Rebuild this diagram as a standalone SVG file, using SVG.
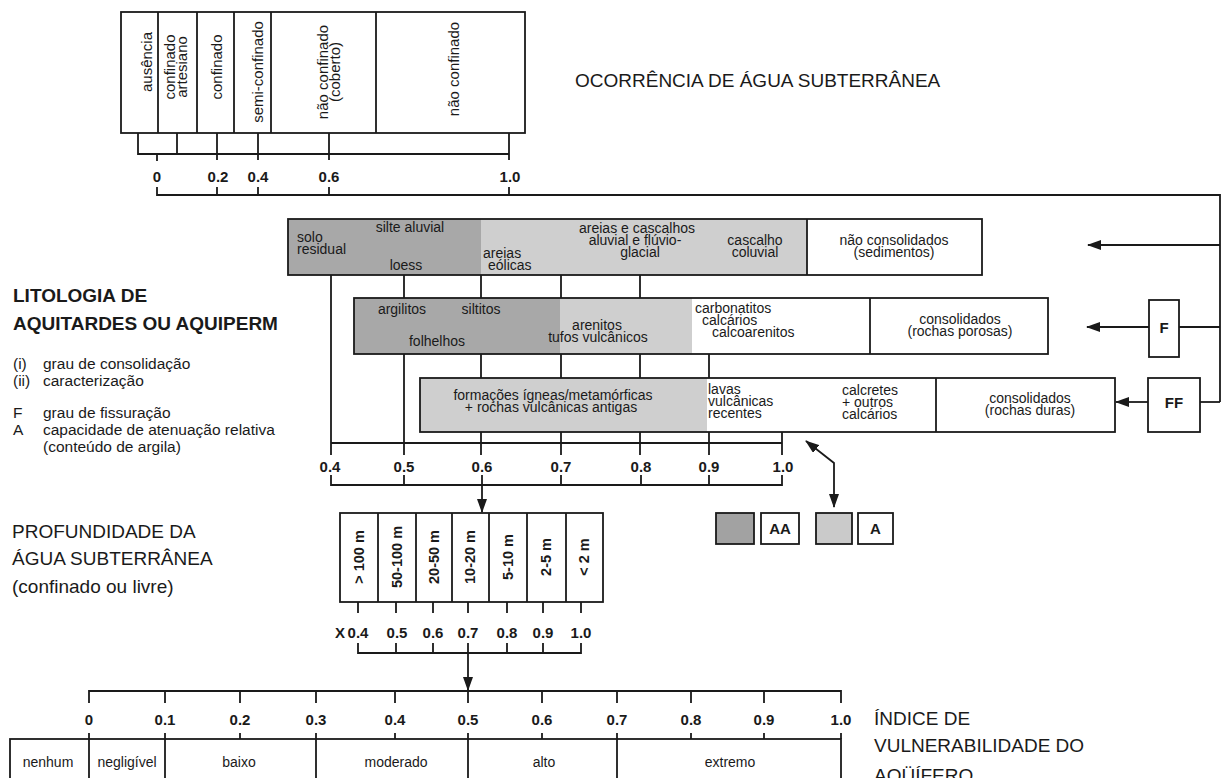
<svg xmlns="http://www.w3.org/2000/svg" width="1223" height="778" viewBox="0 0 1223 778">
<style>
.ln{stroke:#1a1a1a;stroke-width:1.8;fill:none}
.ol{fill:none;stroke:#1a1a1a;stroke-width:1.8}
.bx{fill:#fff;stroke:#1a1a1a;stroke-width:1.8}
.dk{fill:#a8a8a8}
.lt{fill:#cfcfcf}
text{font-family:"Liberation Sans",Arial,Helvetica,sans-serif;fill:#1a1a1a;font-size:14px}
.c{text-anchor:middle}
.v{font-size:15px;text-anchor:middle}
.n{font-size:15px;font-weight:bold;text-anchor:middle}
.d{font-size:14.5px;font-weight:bold;text-anchor:middle}
.h{font-size:19px}
.hb{font-size:19px;font-weight:bold}
.l{font-size:15.5px}
.b{font-weight:bold;font-size:15px;text-anchor:middle}
</style>
<defs>
<marker id="ah" markerUnits="userSpaceOnUse" markerWidth="14" markerHeight="10" refX="13" refY="5" orient="auto-start-reverse"><path d="M0,0 L14,5 L0,10 z" fill="#1a1a1a"/></marker>
</defs>
<rect x="0" y="0" width="1223" height="778" fill="#fff"/>

<g id="connectors">
<path class="ln" d="M138 133 V154 H509"/>
<path class="ln" d="M177 133 V154 M217 133 V160 M258 133 V160 M329 133 V160 M509 133 V160 M157 154 V161"/>
<path class="ln" d="M157 187 V195 H1220 V402 M217 187 V195 M258 187 V195 M329 187 V195 M509 187 V195"/>
<path class="ln" d="M1220 245 H1088" marker-end="url(#ah)"/>
<path class="ln" d="M1220 327 H1179"/>
<path class="ln" d="M1149 327 H1087" marker-end="url(#ah)"/>
<path class="ln" d="M1220 402 H1200"/>
<path class="ln" d="M1148 402 H1116" marker-end="url(#ah)"/>
<path class="ln" d="M331 275 V455 M404 275 V455 M481 275 V455 M561 275 V455 M640 275 V455 M709 354 V455 M782 432 V455"/>
<path class="ln" d="M331 443 H782"/>
<path class="ln" d="M331 475 V485 H782 V475 M404 475 V485 M561 475 V485 M641 475 V485 M709 475 V485"/>
<path class="ln" d="M482 475 V512" marker-end="url(#ah)"/>
<path class="ln" d="M806 441 L834 463 V507" marker-start="url(#ah)" marker-end="url(#ah)"/>
<path class="ln" d="M358 602 V613 M396 602 V613 M433 602 V613 M468 602 V613 M507 602 V613 M543 602 V613 M581 602 V613"/>
<path class="ln" d="M358 643 V653 H581 V643 M396 643 V653 M433 643 V653 M507 643 V653 M543 643 V653"/>
<path class="ln" d="M468 643 V690" marker-end="url(#ah)"/>
<path class="ln" d="M89 703 V691 H841 V703 M165 691 V703 M240 691 V703 M316 691 V703 M395 691 V703 M468 691 V703 M542 691 V703 M617 691 V703 M691 691 V703 M764 691 V703"/>
</g>

<g id="ocorrencia">
<rect class="bx" x="121" y="12" width="404" height="121"/>
<path class="ln" d="M158 12 V133 M197 12 V133 M234 12 V133 M271 12 V133 M376 12 V133"/>
<text class="v" transform="translate(152,62) rotate(-90)">ausência</text>
<text class="v" transform="translate(175,67) rotate(-90)">confinado</text>
<text class="v" transform="translate(187,67) rotate(-90)">artesiano</text>
<text class="v" transform="translate(222,67) rotate(-90)">confinado</text>
<text class="v" transform="translate(263,72) rotate(-90)">semi-confinado</text>
<text class="v" transform="translate(328,72) rotate(-90)">não confinado</text>
<text class="v" transform="translate(340,72) rotate(-90)">(coberto)</text>
<text class="v" transform="translate(459,69) rotate(-90)">não confinado</text>
</g>
<g id="ocorrencia-scale">
<text class="n" x="157" y="182">0</text>
<text class="n" x="218" y="182">0.2</text>
<text class="n" x="258" y="182">0.4</text>
<text class="n" x="329" y="182">0.6</text>
<text class="n" x="510" y="182">1.0</text>
</g>
<g id="title-ocorrencia">
<text class="h" x="575" y="87">OCORRÊNCIA DE ÁGUA SUBTERRÂNEA</text>
</g>

<g id="box-nao-consolidados">
<rect x="288" y="219" width="694" height="56" fill="#fff"/>
<rect class="dk" x="288" y="219" width="193" height="56"/>
<rect class="lt" x="481" y="219" width="326" height="56"/>
<rect class="ol" x="288" y="219" width="694" height="56"/>
<path class="ln" d="M807 219 V275"/>
<text x="297" y="242">solo</text>
<text x="297" y="254">residual</text>
<text class="c" x="410" y="232">silte aluvial</text>
<text class="c" x="406" y="270">loess</text>
<text x="483" y="258">areias</text>
<text x="488" y="270">eólicas</text>
<text class="c" x="637" y="233">areias e cascalhos</text>
<text class="c" x="635" y="245">aluvial e flúvio-</text>
<text class="c" x="640" y="257">glacial</text>
<text class="c" x="755" y="245">cascalho</text>
<text class="c" x="755" y="257">coluvial</text>
<text class="c" x="894" y="245">não consolidados</text>
<text class="c" x="894" y="257">(sedimentos)</text>
</g>

<g id="box-rochas-porosas">
<rect x="354" y="298" width="694" height="56" fill="#fff"/>
<rect class="dk" x="354" y="298" width="206" height="56"/>
<rect class="lt" x="560" y="298" width="132" height="56"/>
<rect class="ol" x="354" y="298" width="694" height="56"/>
<path class="ln" d="M870 298 V354"/>
<text class="c" x="402" y="314">argilitos</text>
<text class="c" x="481" y="314">siltitos</text>
<text class="c" x="437" y="346">folhelhos</text>
<text class="c" x="597" y="330">arenitos</text>
<text class="c" x="598" y="342">tufos vulcânicos</text>
<text x="695" y="313">carbonatitos</text>
<text x="702" y="325">calcários</text>
<text x="712" y="337">calcoarenitos</text>
<text class="c" x="960" y="324">consolidados</text>
<text class="c" x="960" y="336">(rochas porosas)</text>
</g>

<g id="box-rochas-duras">
<rect x="420" y="378" width="695" height="54" fill="#fff"/>
<rect class="lt" x="420" y="378" width="287" height="54"/>
<rect class="ol" x="420" y="378" width="695" height="54"/>
<path class="ln" d="M936 378 V432"/>
<text class="c" x="553" y="400">formações ígneas/metamórficas</text>
<text class="c" x="551" y="412">+ rochas vulcânicas antigas</text>
<text x="708" y="394">lavas</text>
<text x="708" y="406">vulcânicas</text>
<text x="708" y="418">recentes</text>
<text x="842" y="395">calcretes</text>
<text x="842" y="407">+ outros</text>
<text x="842" y="419">calcários</text>
<text class="c" x="1030" y="403">consolidados</text>
<text class="c" x="1030" y="415">(rochas duras)</text>
</g>

<g id="box-F">
<rect class="bx" x="1149" y="300" width="30" height="57"/>
<text class="b" x="1164" y="333">F</text>
</g>
<g id="box-FF">
<rect class="bx" x="1148" y="378" width="52" height="54"/>
<text class="b" x="1174" y="408">FF</text>
</g>

<g id="litologia-scale">
<text class="n" x="330" y="472">0.4</text>
<text class="n" x="404" y="472">0.5</text>
<text class="n" x="482" y="472">0.6</text>
<text class="n" x="561" y="472">0.7</text>
<text class="n" x="641" y="472">0.8</text>
<text class="n" x="709" y="472">0.9</text>
<text class="n" x="783" y="472">1.0</text>
</g>

<g id="legend">
<rect x="716" y="513" width="38" height="31" fill="#a2a2a2" stroke="#1a1a1a" stroke-width="1.8"/>
<rect class="bx" x="761" y="513" width="38" height="31"/>
<text class="b" x="780" y="534">AA</text>
<rect x="816" y="513" width="36" height="31" fill="#cacaca" stroke="#1a1a1a" stroke-width="1.8"/>
<rect class="bx" x="858" y="513" width="35" height="31"/>
<text class="b" x="875.5" y="534">A</text>
</g>

<g id="title-litologia">
<text class="hb" x="13" y="302">LITOLOGIA DE</text>
<text class="hb" x="13" y="330">AQUITARDES OU AQUIPERM</text>
<text class="l" x="13" y="369">(i)</text>
<text class="l" x="43" y="369">grau de consolidação</text>
<text class="l" x="13" y="386">(ii)</text>
<text class="l" x="43" y="386">caracterização</text>
<text class="l" x="13" y="418">F</text>
<text class="l" x="43" y="418">grau de fissuração</text>
<text class="l" x="13" y="435">A</text>
<text class="l" x="43" y="435">capacidade de atenuação relativa</text>
<text class="l" x="43" y="452">(conteúdo de argila)</text>
</g>

<g id="profundidade">
<rect class="bx" x="340" y="513" width="263" height="89"/>
<path class="ln" d="M378 513 V602 M416 513 V602 M452 513 V602 M489 513 V602 M527 513 V602 M566 513 V602"/>
<text class="d" transform="translate(364,557) rotate(-90)">&gt; 100 m</text>
<text class="d" transform="translate(402,557) rotate(-90)">50-100 m</text>
<text class="d" transform="translate(439,557) rotate(-90)">20-50 m</text>
<text class="d" transform="translate(475,557) rotate(-90)">10-20 m</text>
<text class="d" transform="translate(513,557) rotate(-90)">5-10 m</text>
<text class="d" transform="translate(551,557) rotate(-90)">2-5 m</text>
<text class="d" transform="translate(589,557) rotate(-90)">&lt; 2 m</text>
</g>
<g id="profundidade-scale">
<text class="n" x="340" y="638">X</text>
<text class="n" x="358" y="638">0.4</text>
<text class="n" x="397" y="638">0.5</text>
<text class="n" x="433" y="638">0.6</text>
<text class="n" x="468" y="638">0.7</text>
<text class="n" x="507" y="638">0.8</text>
<text class="n" x="543" y="638">0.9</text>
<text class="n" x="581" y="638">1.0</text>
</g>
<g id="title-profundidade">
<text class="h" x="12" y="538">PROFUNDIDADE DA</text>
<text class="h" x="12" y="565">ÁGUA SUBTERRÂNEA</text>
<text class="h" x="12" y="593">(confinado ou livre)</text>
</g>

<g id="indice-scale">
<text class="n" x="89" y="725">0</text>
<text class="n" x="165" y="725">0.1</text>
<text class="n" x="240" y="725">0.2</text>
<text class="n" x="316" y="725">0.3</text>
<text class="n" x="395" y="725">0.4</text>
<text class="n" x="468" y="725">0.5</text>
<text class="n" x="542" y="725">0.6</text>
<text class="n" x="617" y="725">0.7</text>
<text class="n" x="691" y="725">0.8</text>
<text class="n" x="764" y="725">0.9</text>
<text class="n" x="841" y="725">1.0</text>
</g>
<g id="indice-classes">
<rect class="bx" x="10" y="739" width="831" height="60"/>
<path class="ln" d="M89 733 V778 M165 733 V778 M316 733 V778 M468 733 V778 M617 733 V778 M841 733 V739 M240 733 V739 M395 733 V739 M542 733 V739 M691 733 V739 M764 733 V739"/>
<text class="c" x="48" y="767">nenhum</text>
<text class="c" x="127" y="767">negligível</text>
<text class="c" x="239" y="767">baixo</text>
<text class="c" x="396" y="767">moderado</text>
<text class="c" x="544" y="767">alto</text>
<text class="c" x="730" y="767">extremo</text>
</g>
<g id="title-indice">
<text class="h" x="874" y="725">ÍNDICE DE</text>
<text class="h" x="874" y="752">VULNERABILIDADE DO</text>
<text class="h" x="874" y="782">AQÜÍFERO</text>
</g>
</svg>
